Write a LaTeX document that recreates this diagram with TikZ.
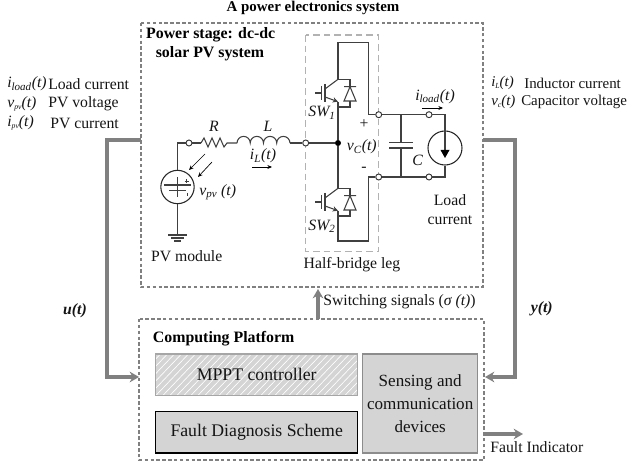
\documentclass[tikz,border=0pt]{standalone}
\usepackage{fontspec}
\setmainfont{Liberation Serif}
\usetikzlibrary{arrows.meta}
\newcommand{\isub}[2]{\textit{#1\textsubscript{#2}(t)}}
\newcommand{\tsub}[2]{\textit{#1\raisebox{-1.5pt}{\fontsize{5.8}{6}\selectfont #2}(t)}}
\begin{document}
\begin{tikzpicture}[x=0.75pt,y=-0.75pt]
          \tikzset{dash box/.style={draw=#1,dash pattern=on 2.6pt off 1.8pt,line width=1.3pt}}
          \tikzset{leg box/.style={draw=black!30,dash pattern=on 5pt off 3pt,line width=0.8pt}}
          \tikzset{wire/.style={draw=black!75,line width=0.8pt}}
          \tikzset{signal/.style={draw=black!50,line width=2.8pt,-{Stealth[length=7pt,width=8pt]}}}
          \tikzset{term/.style={circle,draw=black!80,fill=white,line width=0.7pt,inner sep=0pt,minimum size=4.5pt}}
          \tikzset{dot/.style={circle,fill=black,inner sep=0pt,minimum size=4.5pt}}
          \tikzset{lbl/.style={inner sep=0pt,font=\fontsize{11.8}{14}\selectfont,text=black!92}}
          \tikzset{side/.style={lbl,font=\fontsize{11.2}{14}\selectfont}}
          \tikzset{head/.style={lbl,font=\fontsize{11.9}{14}\selectfont\bfseries,text=black}}
          \tikzset{block/.style={draw=#1,fill=black!17,line width=1pt,inner sep=0pt,align=center,font=\fontsize{13.3}{17}\selectfont,text=black!92}}
          \tikzset{small/.style={draw=black,line width=0.5pt,-{Stealth[length=3.5pt,width=3pt]}}}

          \path [use as bounding box] (0,0) rectangle (634,466);

          \draw [dash box=black!50] (141,23) rectangle (483,287);
          \draw [leg box] (305.7,35) rectangle (378.7,251.7);
          \draw [dash box=black!50] (139,319) rectangle (484,460);

          \node [block=black!35,minimum width=202pt*0.75,minimum height=41.7pt*0.75,
                 path picture={\foreach \hx in {-42,-35,...,210} {\draw [white,line width=0.5pt] (path picture bounding box.south west) ++(\hx,0) -- ++(42,-44);}}] (mppt) at (256.7,374.8) {MPPT controller};
          \node [block=black,minimum width=202pt*0.75,minimum height=41.7pt*0.75] (fault) at (256.7,432.3) {Fault Diagnosis Scheme};
          \node [block=black!45,font=\fontsize{12.8}{17}\selectfont,minimum width=115pt*0.75,minimum height=99pt*0.75] (sense) at (420.2,403.5) {Sensing and\\communication\\devices};

          \coordinate (srctop) at (177.5,143);
          \node [term] (t1) at (189,143) {};
          \coordinate (rleft) at (201,143);
          \coordinate (rright) at (227,143);
          \coordinate (lleft) at (237,143);
          \coordinate (lright) at (290,143);
          \node [term] (t2) at (305.7,143) {};
          \node [dot] (mid) at (338,143) {};
          \node [circle,draw=black!85,line width=0.8pt,inner sep=0pt,minimum size=25pt] (pv) at (177.5,187) {};
          \coordinate (gnd) at (177.5,235);

          \draw [wire] (pv.north) -- (srctop) -- (t1) -- (rleft);
          \draw [wire] (rleft) -- ++(3,-5) -- ++(4,9) -- ++(4,-9) -- ++(4,9) -- ++(4,-9) -- ++(4,9) -- (rright) -- (lleft);
          \draw [wire] (lleft) \foreach \i in {1,...,4} {arc (180:360:6.62)};
          \draw [wire] (lright) -- (t2) -- (mid);
          \draw [wire] (pv.south) -- (gnd);
          \draw [wire] (168,235) -- (187,235) (171,238) -- (184,238) (174,241) -- (181,241);
          \draw [wire] (177.5,177) -- (177.5,197) (164,185) -- (191,185) (169,190.7) -- (186,190.7);
          \draw [wire,line width=0.5pt] (184.5,181) -- (188.5,181) (186.5,179) -- (186.5,183) (187,193) -- (187,196);
          \draw [small] (205,154) -- (189,170);
          \draw [small] (212,162) -- (198,177);

          \foreach \swname/\dy in {a/0,b/109} {
            \begin{scope}[yshift=-\dy*0.75pt]
              \coordinate (col\swname) at (338,79.3);
              \coordinate (emi\swname) at (338,101.7);
              \draw [wire] (315,93) -- (321.5,93);
              \draw [wire,line width=1.4pt] (321.5,86) -- (321.5,100);
              \draw [wire,line width=1.4pt] (325,84) -- (325,102);
              \draw [wire] (325,89) -- (col\swname);
              \draw [wire,-{Stealth[length=4pt,width=4pt]}] (325,97) -- (emi\swname);
              \draw [wire] (col\swname) -- (350,79.3) -- (350,86.7) (350,101) -- (350,107) -- (338,107);
              \draw [wire] (344,86.7) -- (356,86.7) (344,101) -- (356,101) -- (350,86.7) -- cycle;
            \end{scope}
          }

          \node [term] (t3) at (378.7,114.7) {};
          \node [term] (t4) at (378.7,177) {};
          \node [term] (t5) at (429,114.7) {};
          \node [term] (t6) at (429,177) {};
          \coordinate (upcap) at (401,114.7);
          \coordinate (locap) at (401,177);
          \coordinate (platea) at (401,142.5);
          \coordinate (plateb) at (401,148);
          \coordinate (uptop) at (338,42.7);
          \coordinate (upright) at (368.7,42.7);
          \coordinate (upturn) at (368.7,114.7);
          \coordinate (lotop) at (368.7,177);
          \coordinate (lobot) at (368.7,241);
          \coordinate (lowleft) at (338,241);
          \coordinate (loadup) at (445,114.7);
          \coordinate (loaddown) at (445,177);
          \node [circle,draw=black!85,line width=0.8pt,inner sep=0pt,minimum size=25.5pt] (load) at (445,148) {};

          \draw [wire] (mid) -- (emia) (mid) -- (colb);
          \draw [wire] (cola) -- (uptop) -- (upright) -- (upturn) -- (t3) -- (upcap) -- (t5) -- (loadup) -- (load.north);
          \draw [wire] (emib) -- (lowleft) -- (lobot) -- (lotop) -- (t4) -- (locap) -- (t6) -- (loaddown) -- (load.south);
          \draw [wire] (upcap) -- (platea) (plateb) -- (locap);
          \draw [wire,line width=1pt] (389,142.5) -- (413,142.5) (389,148) -- (413,148);
          \draw [wire] (load.north) -- (445,150);
          \fill [black] (440.5,150) -- (449.5,150) -- (445,158) -- cycle;

          \coordinate (ufrom) at (141,140);
          \coordinate (ucorner) at (107,140);
          \coordinate (ubend) at (107,377);
          \coordinate (uto) at (139,377);
          \coordinate (yfrom) at (483,140);
          \coordinate (ycorner) at (515,140);
          \coordinate (ybend) at (515,377);
          \coordinate (yto) at (485,377);
          \coordinate (swfrom) at (318,319);
          \coordinate (swto) at (318,289);
          \coordinate (ffrom) at (484,434);
          \coordinate (fto) at (523,434);
          \draw [signal] (ufrom) -- (ucorner) -- (ubend) -- (uto);
          \draw [signal] (yfrom) -- (ycorner) -- (ybend) -- (yto);
          \draw [signal] (swfrom) -- (swto);
          \draw [signal] (ffrom) -- (fto);
          \draw [small] (252,167) -- (272,167);
          \draw [small] (422,108) -- (443,108);

          \node [head,font=\fontsize{11.2}{14}\selectfont\bfseries] (title) at (313,8) {A power electronics system};
          \node [head] (stagea) at (210.7,35) {Power stage: dc-dc};
          \node [head] (stageb) at (210,54) {solar PV system};
          \node [head,anchor=west] (platform) at (152.7,339) {Computing Platform};

          \node [lbl,anchor=west] (loadsym) at (7,84) {\isub{i}{load}};
          \node [lbl,anchor=west] (loadtext) at (48,84) {Load current};
          \node [lbl,anchor=west] (vpvsym) at (7,104) {\tsub{v}{pv}};
          \node [lbl,anchor=west] (vpvtext) at (48,104) {PV voltage};
          \node [lbl,anchor=west] (ipvsym) at (7,123) {\tsub{i}{pv}};
          \node [lbl,anchor=west] (ipvtext) at (50,123) {PV current};
          \node [side,anchor=west] (ilsym) at (491,83.3) {\tsub{i}{L}};
          \node [side,anchor=west] (iltext) at (524,83.3) {Inductor current};
          \node [side,anchor=west] (vcsym) at (491,102.3) {\tsub{v}{c}};
          \node [side,anchor=west] (vctext) at (521,102.3) {Capacitor voltage};

          \node [lbl,font=\fontsize{11.8}{14}\selectfont\bfseries\itshape] (ulabel) at (75,311) {u(t)};
          \node [lbl,font=\fontsize{11.8}{14}\selectfont\bfseries\itshape] (ylabel) at (541.7,309) {y(t)};
          \node [lbl,anchor=west] (swtext) at (323,302) {Switching signals (\textit{σ (t)})};
          \node [lbl] (legtext) at (352,265) {Half-bridge leg};
          \node [lbl,align=center] (loadname) at (450,209.5) {Load\\current};
          \node [lbl] (pvname) at (186.7,256) {PV module};
          \node [lbl,anchor=west] (vpv) at (199,192) {\textit{v\textsubscript{pv} (t)}};
          \node [lbl] (il) at (263,156) {\isub{i}{L}};
          \node [lbl] (rname) at (214,126) {\textit{R}};
          \node [lbl] (lname) at (268,126) {\textit{L}};
          \node [lbl] (swa) at (322,112.7) {\textit{SW\textsubscript{1}}};
          \node [lbl] (swb) at (322,226) {\textit{SW\textsubscript{2}}};
          \node [lbl] (plus) at (364,124) {+};
          \node [lbl] (minus) at (364,169) {-};
          \node [lbl] (vc) at (361.7,147) {\isub{v}{C}};
          \node [lbl] (cname) at (417.7,160.7) {\textit{C}};
          \node [lbl] (iload) at (435,96.7) {\isub{i}{load}};
          \node [lbl,anchor=west] (findicator) at (490,446.7) {Fault Indicator};

        \end{tikzpicture}
\end{document}
